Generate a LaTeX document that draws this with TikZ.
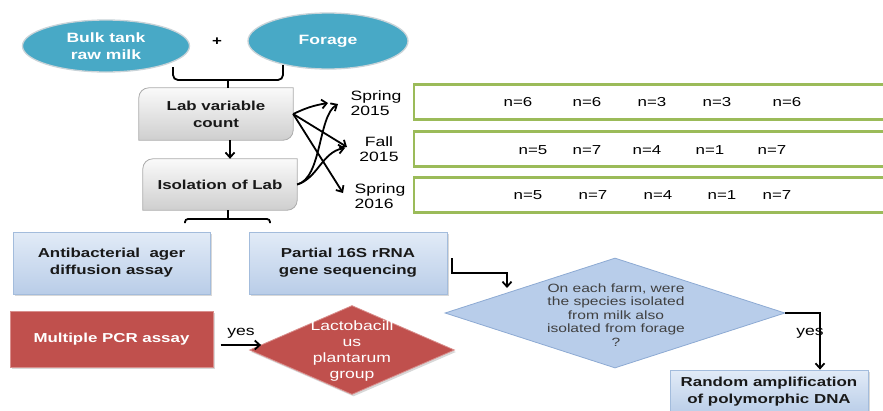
\documentclass[tikz,border=0pt]{standalone}
\usepackage{fontspec}
\setmainfont{Liberation Sans}[FakeStretch=1.3]
\usetikzlibrary{shapes.geometric,arrows.meta,calc,shadows,backgrounds}

\definecolor{tealfill}{HTML}{48A9C6}
\definecolor{ovaledge}{HTML}{C9D3D8}
\definecolor{leafgreen}{HTML}{9BBB59}
\definecolor{skytop}{HTML}{E2EBF7}
\definecolor{skybot}{HTML}{B9CDE8}
\definecolor{skyedge}{HTML}{A3BCDC}
\definecolor{brick}{HTML}{C0504D}
\definecolor{brickedge}{HTML}{D98F8D}
\definecolor{diafill}{HTML}{B8CDEA}
\definecolor{diaedge}{HTML}{8DAAD3}

\newcommand\fsz[2]{\fontsize{#1}{#2}\selectfont}

\begin{document}
\begin{tikzpicture}[x=1pt,y=-1pt,
  oval/.style={ellipse, fill=tealfill, draw=ovaledge, line width=1.3pt, text=white,
    font=\bfseries\fsz{13.5}{17}, align=center, inner sep=0pt},
  graylbl/.style={font=\bfseries\fsz{13}{17}, align=center, inner sep=0pt, text=black!90},
  grayshape/.style={draw=gray!65, line width=0.8pt, top color=gray!4, bottom color=gray!38},
  season/.style={font=\fsz{13.5}{14.5}, inner sep=0pt},
  tally/.style={draw=leafgreen, line width=2.2pt, fill=white, inner sep=0pt},
  count/.style={font=\fsz{13}{13}, inner sep=0pt},
  skybox/.style={draw=skyedge, line width=0.8pt, top color=skytop, bottom color=skybot,
    font=\bfseries\fsz{13}{17}, align=center, inner sep=0pt, text=black!90,
    drop shadow={shadow xshift=1.5pt, shadow yshift=-2pt, opacity=0.3}},
  redbox/.style={fill=brick, draw=brickedge, line width=1pt, text=white,
    font=\bfseries\fsz{13}{17}, inner sep=0pt,
    drop shadow={shadow xshift=1.5pt, shadow yshift=-2pt, opacity=0.3}},
  reddiamond/.style={diamond, fill=brick, draw=brickedge, line width=0.8pt, inner sep=0pt,
    drop shadow={shadow xshift=1.5pt, shadow yshift=-2pt, opacity=0.3}},
  redtext/.style={text=white, font=\fsz{13.5}{16}, align=center, inner sep=0pt},
  bluediamond/.style={diamond, fill=diafill, draw=diaedge, line width=0.8pt, inner sep=0pt},
  bluetext/.style={text=black!75, font=\fsz{12}{13.5}, align=center, inner sep=0pt},
  link/.style={line width=1.8pt, -{Straight Barb[length=5pt,width=9pt]}},
  brace/.style={line width=1.8pt, rounded corners=5pt},
  note/.style={font=\fsz{13.5}{14}, inner sep=0pt}
]

% page
\begin{pgfonlayer}{background}
  \fill[white] (0,0) rectangle (883,410);
\end{pgfonlayer}
\useasboundingbox (0,0) rectangle (883,410);
\clip (0,0) rectangle (883,410);

% sources
\node[oval, minimum width=167pt, minimum height=52pt] (milk) at (106,46) {Bulk tank\\raw milk};
\node[oval, minimum width=160pt, minimum height=56pt] (forage) at (328,41) {Forage};
\node[font=\bfseries\fsz{13}{13}, inner sep=0pt] (plus) at (217,42) {+};

% joining brace
\coordinate (braceL) at (173,67);
\coordinate (braceR) at (283,65);
\coordinate (braceM) at (228,80);
\draw[brace] (braceL) -- (173,80) -- (283,80) -- (braceR);

% grey process boxes
\node[graylbl, minimum width=154pt, minimum height=52pt] (lab) at (216,114) {Lab variable\\count};
\node[graylbl, minimum width=154pt, minimum height=51pt] (iso) at (220,184.5) {Isolation of Lab};
\begin{pgfonlayer}{background}
  \foreach \n in {lab,iso}{
    \path[grayshape] ($(\n.north west)+(0,10)$) arc[start angle=180,end angle=270,radius=10]
      -- (\n.north east) -- ($(\n.south east)+(0,-10)$) arc[start angle=0,end angle=90,radius=10]
      -- (\n.south west) -- cycle;
  }
\end{pgfonlayer}
\draw[line width=1.8pt] (braceM) -- ([xshift=12pt]lab.north);
\draw[link] ([xshift=14pt]lab.south) -- ([xshift=10pt]iso.north);

% seasons
\node[season, align=left] (sp15) at (376,103) {Spring\\2015};
\node[season, align=center] (fa15) at (379,149) {Fall\\2015};
\node[season, align=left] (sp16) at (380,196) {Spring\\2016};

\coordinate (t1) at (328,103);
\coordinate (t2) at (347,147);
\coordinate (t3) at (343,193);
\coordinate (t4) at (338,104);
\coordinate (t5) at (345,148);
\draw[link] (lab.east) to[bend left=8] (t1);
\draw[link] (lab.east) -- (t2);
\draw[link] (lab.east) -- (t3);
\draw[link] (iso.east) .. controls (322,178) and (318,116) .. (t4);
\draw[link] (iso.east) .. controls (318,178) and (322,152) .. (t5);

% sample counts
\node[tally, minimum width=480pt, minimum height=35pt, anchor=west] (g1) at (413,102) {};
\node[tally, minimum width=480pt, minimum height=35pt, anchor=west] (g2) at (413,149) {};
\node[tally, minimum width=480pt, minimum height=35pt, anchor=west] (g3) at (413,195) {};
\node[count] (g1a) at (518,102) {n=6};
\node[count] (g1b) at (587,102) {n=6};
\node[count] (g1c) at (652,102) {n=3};
\node[count] (g1d) at (717,102) {n=3};
\node[count] (g1e) at (787,102) {n=6};
\node[count] (g2a) at (533,150) {n=5};
\node[count] (g2b) at (587,150) {n=7};
\node[count] (g2c) at (647,150) {n=4};
\node[count] (g2d) at (710,150) {n=1};
\node[count] (g2e) at (772,150) {n=7};
\node[count] (g3a) at (528,195) {n=5};
\node[count] (g3b) at (593,195) {n=7};
\node[count] (g3c) at (658,195) {n=4};
\node[count] (g3d) at (722,195) {n=1};
\node[count] (g3e) at (777,195) {n=7};

% split brace under isolation
\coordinate (splitL) at (185,223);
\coordinate (splitR) at (270,223);
\draw[line width=1.8pt] ([xshift=8pt]iso.south) -- (228,219);
\draw[line width=1.8pt, rounded corners=3pt] (splitL) -- (185,219) -- (270,219) -- (splitR);

% assays
\node[skybox, minimum width=197pt, minimum height=62pt] (agar) at (111.5,263) {Antibacterial~ ager\\diffusion assay};
\node[skybox, minimum width=198pt, minimum height=62pt] (partial) at (348,263) {Partial 16S rRNA\\gene sequencing};
\node[redbox, minimum width=203pt, minimum height=56pt] (pcr) at (111.5,339) {Multiple PCR assay};

\node[reddiamond, minimum width=205pt, minimum height=89pt] (lacto) at (352,350) {};
\node[redtext] (lactotxt) at (352,351) {Lactobacill\\us\\plantarum\\group};
\draw[link] ([xshift=7pt,yshift=-6pt]pcr.east) -- ([xshift=12pt,yshift=5pt]lacto.west);
\node[note] (yes1) at (241,333) {yes};

\node[bluediamond, minimum width=340pt, minimum height=110pt] (farm) at (615,313) {};
\node[bluetext] (farmtxt) at (616,315) {On each farm, were\\the species isolated\\from milk also\\isolated from forage\\?};

\coordinate (seqout) at (452,258);
\coordinate (farmin) at (507,288);
\draw[link] (seqout) |- ($(farmin)+(0,-15)$) -- (farmin);

\node[skybox, minimum width=198pt, minimum height=44pt] (rand) at (769,392) {Random amplification\\of polymorphic DNA};
\draw[link] (farm.east) -| ($(rand.north)+(51,0)$);
\node[note] (yes2) at (810,333) {yes};

\end{tikzpicture}
\end{document}
